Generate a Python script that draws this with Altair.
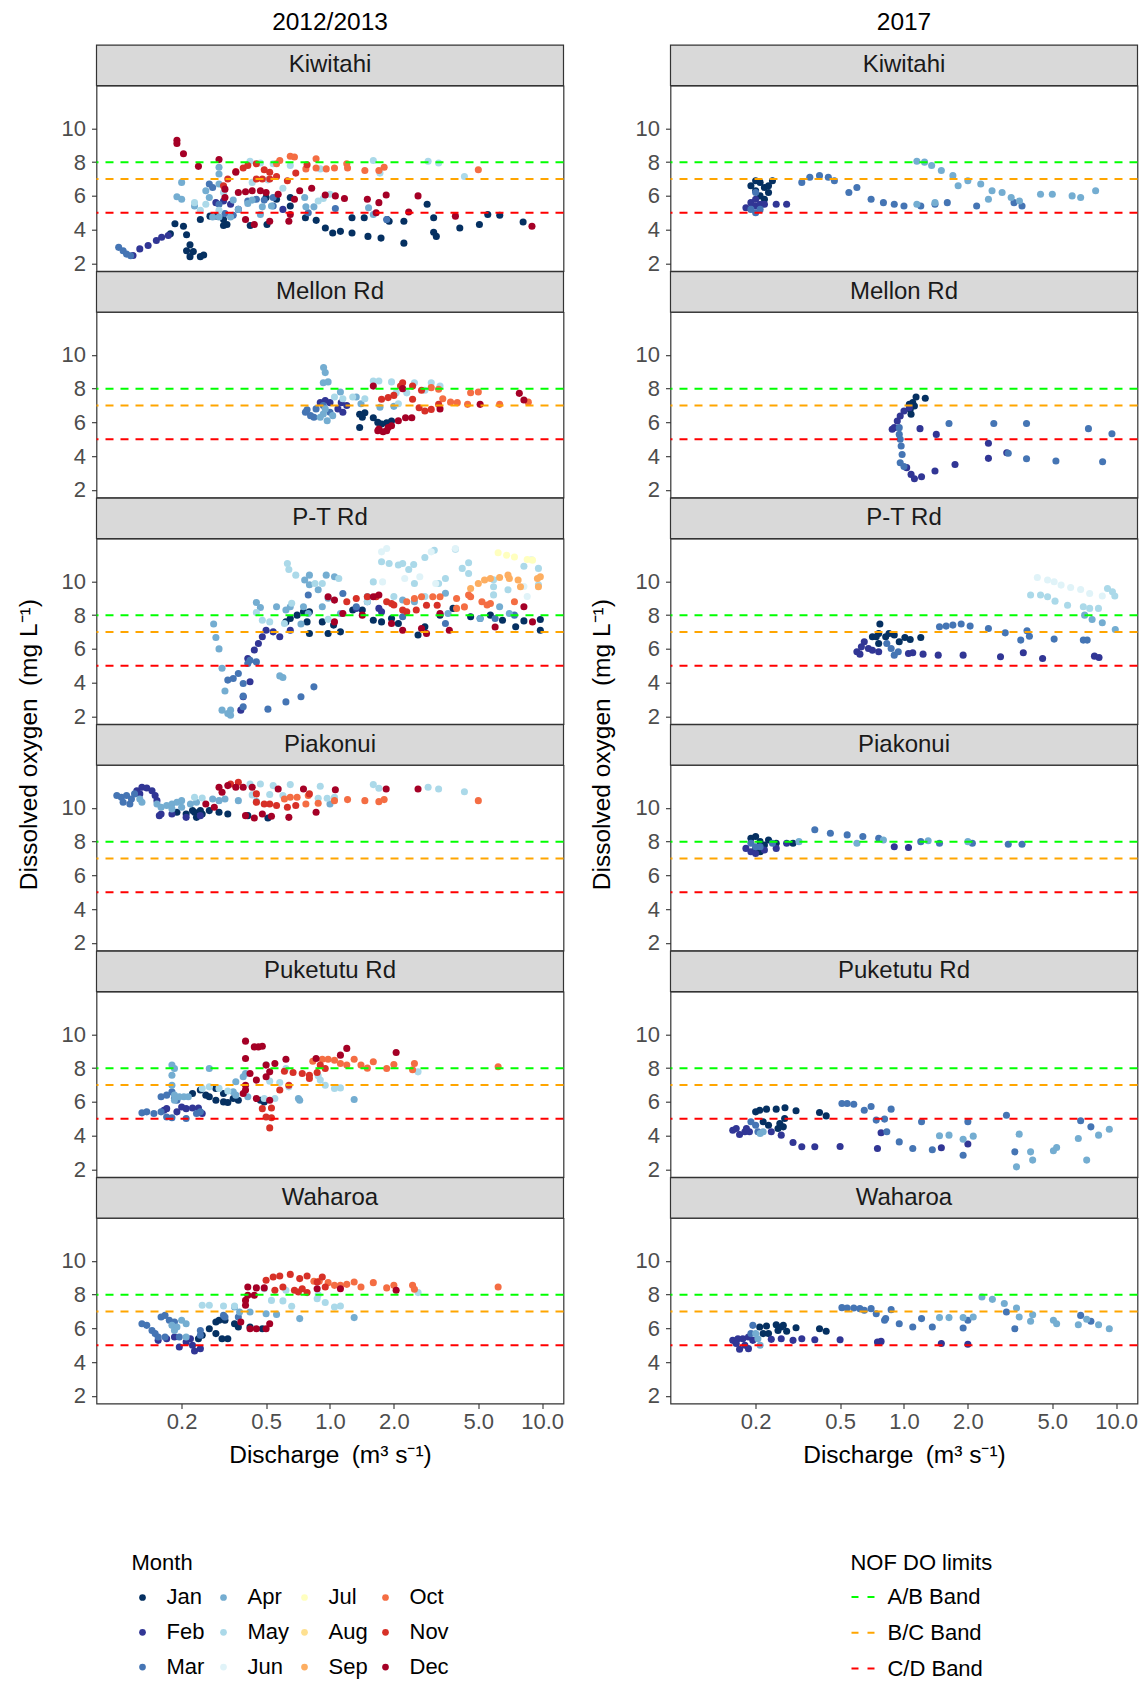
import altair as alt
import pandas as pd

MONTHS = ["Jan", "Feb", "Mar", "Apr", "May", "Jun", "Jul", "Aug", "Sep", "Oct", "Nov", "Dec"]
MONTH_COLORS = ["#053061", "#313695", "#4575B4", "#74ADD1", "#ABD9E9", "#E0F3F8",
                "#FFFFBF", "#FEE090", "#FDAE61", "#F46D43", "#D73027", "#A50026"]
SITES = ["Kiwitahi", "Mellon Rd", "P-T Rd", "Piakonui", "Puketutu Rd", "Waharoa"]
PERIODS = ["2012/2013", "2017"]
BANDS = ["A/B Band", "B/C Band", "C/D Band"]
BAND_DO = [8, 7, 5]
BAND_COLORS = ["#00FF00", "#FFA500", "#FF0000"]
Y_TICKS = [2, 4, 6, 8, 10]
X_TICKS = [0.2, 0.5, 1.0, 2.0, 5.0, 10.0]
X_DOMAIN = [0.0794, 12.6]
Y_DOMAIN = [1.55, 12.53]

# ---- discharge (m3/s), dissolved oxygen (mg/L) by month ----
KIWITAHI_1213 = {
    "Jan": [(0.177, 3.75), (0.186, 4.35), (0.204, 4.2), (0.211, 3.7), (0.219, 3.1), (0.227, 2.7), (0.211, 2.75),
            (0.219, 2.4), (0.245, 2.4), (0.254, 2.5), (0.245, 4.6), (0.272, 4.8), (0.293, 4.8), (0.315, 4.6),
            (0.327, 4.3), (0.315, 4.25), (0.421, 4.25), (0.505, 4.3), (0.5, 5.9), (0.56, 5.8), (0.65, 5.9),
            (0.65, 5.4), (0.766, 4.7), (0.861, 4.55), (0.951, 4.1), (1.03, 3.8), (1.12, 3.9), (1.27, 4.7),
            (1.27, 3.8), (1.45, 4.7), (1.51, 3.6), (1.74, 3.5), (1.86, 4.6), (1.9, 4.5), (2.23, 4.5), (2.23, 3.2),
            (2.87, 5.5), (3.08, 4.7), (3.08, 3.85), (3.17, 3.6), (4.09, 4.1), (5.06, 4.3), (5.54, 4.9),
            (6.31, 4.85), (8.13, 4.45)],
    "Feb": [(0.118, 2.47), (0.127, 2.86), (0.139, 3.06), (0.152, 3.36), (0.161, 3.55), (0.173, 3.65),
            (0.29, 5.6), (0.315, 5.7), (0.34, 5.5), (0.37, 5.2), (0.6, 5.2)],
    "Mar": [(0.101, 2.95), (0.106, 2.75), (0.11, 2.55), (0.115, 2.45), (0.27, 6.7), (0.28, 6.5), (0.3, 5.5),
            (0.32, 4.95), (0.35, 4.85), (0.41, 5.7), (0.45, 5.8), (0.49, 5.75), (0.54, 5.9), (0.54, 5.4),
            (0.79, 5.0), (1.06, 5.25), (1.85, 4.6)],
    "Apr": [(0.2, 6.8), (0.2, 5.8), (0.19, 5.95), (0.3, 7.7), (0.3, 7.3), (0.3, 6.7), (0.26, 6.3), (0.27, 5.9),
            (0.28, 4.75), (0.3, 4.75), (0.34, 4.75), (0.37, 5.2), (0.41, 5.55), (0.43, 5.75), (0.47, 4.9),
            (0.48, 5.35), (0.53, 5.4), (0.77, 5.35), (0.84, 5.35), (0.76, 5.9), (1.52, 5.3), (1.6, 4.9),
            (0.35, 5.75), (0.23, 5.4)],
    "May": [(0.42, 8.05), (0.47, 7.95), (0.54, 7.9), (0.65, 7.8), (0.9, 7.6), (1.6, 8.1), (1.72, 7.35),
            (2.9, 8.05), (3.25, 7.95), (4.3, 7.15), (0.43, 6.8), (0.51, 6.95), (0.6, 6.45), (0.88, 5.7),
            (0.93, 5.85), (1.0, 6.1), (0.23, 5.6), (0.245, 5.15), (0.26, 5.5), (0.3, 5.15), (0.315, 6.2)],
    "Oct": [(0.56, 7.9), (0.58, 8.1), (0.65, 8.35), (0.68, 8.3), (0.77, 7.6), (0.86, 8.2), (0.86, 7.65),
            (0.96, 7.6), (1.05, 7.65), (1.2, 7.9), (1.21, 7.65), (1.46, 7.5), (1.7, 7.5), (1.8, 7.7), (5.0, 7.55)],
    "Nov": [(0.315, 6.6), (0.33, 7.0), (0.36, 7.45), (0.39, 7.65), (0.41, 7.8), (0.45, 7.9), (0.49, 7.55),
            (0.52, 7.4), (0.56, 7.15), (0.63, 6.9), (0.69, 7.35), (0.78, 7.85), (0.45, 7.0), (0.48, 7.0),
            (0.52, 7.0)],
    "Dec": [(0.19, 9.3), (0.19, 9.1), (0.204, 8.5), (0.24, 7.75), (0.3, 8.15), (0.32, 5.9), (0.36, 7.4),
            (0.32, 6.4), (0.37, 6.2), (0.4, 6.25), (0.43, 6.3), (0.47, 6.3), (0.5, 6.2), (0.4, 4.6), (0.44, 4.3),
            (0.52, 4.5), (0.57, 6.1), (0.64, 4.5), (0.65, 4.9), (0.68, 5.8), (0.72, 6.3), (0.82, 6.45),
            (0.95, 6.05), (1.06, 6.0), (1.17, 5.85), (1.5, 5.8), (1.7, 5.6), (1.65, 5.0), (1.84, 6.05),
            (2.35, 5.05), (2.6, 6.0), (3.9, 4.8), (8.95, 4.2)],
}

MELLON_1213 = {
    "Jan": [(1.38, 6.48), (1.46, 6.57), (1.6, 6.28), (1.68, 6.0), (1.85, 5.98), (1.95, 6.08), (1.38, 5.7),
            (1.42, 6.3), (1.75, 5.9)],
    "Feb": [(0.9, 7.17), (1.0, 7.17), (1.09, 6.8), (1.15, 6.6), (1.2, 7.0), (1.13, 7.17), (0.95, 7.3)],
    "Mar": [(0.766, 6.6), (0.81, 6.4), (0.86, 6.8), (0.93, 7.0), (1.0, 6.6), (0.78, 6.75), (0.84, 6.3)],
    "Apr": [(0.933, 9.25), (0.95, 8.95), (0.93, 8.35), (0.98, 8.4), (1.12, 7.8), (0.93, 6.5), (0.97, 6.1),
            (0.9, 6.3), (1.33, 7.5), (1.4, 7.1), (1.72, 6.9), (2.0, 6.95), (0.95, 6.8), (1.03, 6.4)],
    "May": [(1.05, 7.5), (1.15, 7.4), (1.28, 7.5), (1.46, 7.4), (1.6, 8.45), (1.7, 8.45), (1.95, 8.4),
            (2.5, 8.35), (3.0, 8.35), (3.3, 8.15), (2.05, 7.75), (2.3, 7.75), (2.1, 7.1), (2.8, 7.9)],
    "Oct": [(3.0, 8.06), (3.25, 7.96), (3.7, 7.2), (3.98, 7.17), (4.45, 7.07), (4.6, 7.76), (5.0, 7.8),
            (6.3, 7.07), (8.6, 7.2), (3.4, 7.4)],
    "Nov": [(1.75, 7.37), (1.88, 7.47), (2.15, 8.15), (2.2, 8.35), (2.45, 8.15), (2.7, 7.9), (2.45, 7.37),
            (2.63, 6.87), (2.8, 6.68), (3.0, 6.77), (3.25, 7.07), (2.0, 7.6)],
    "Dec": [(1.68, 5.5), (1.85, 5.5), (1.95, 5.8), (2.1, 6.1), (2.27, 6.28), (2.43, 6.28), (1.6, 8.15),
            (2.2, 8.0), (3.3, 6.8), (5.1, 7.07), (7.8, 7.72), (8.2, 7.33), (1.7, 5.6), (1.88, 5.7), (1.78, 5.45)],
}

PTRD_1213 = {
    "Jan": [(0.62, 7.6), (0.65, 7.8), (0.7, 8.0), (0.75, 8.2), (0.8, 8.2), (0.78, 7.6), (0.8, 6.91), (0.92, 7.6),
            (0.98, 6.91), (1.12, 7.01), (1.04, 7.41), (1.28, 8.3), (1.42, 8.3), (1.6, 7.7), (1.75, 7.6),
            (1.95, 7.8), (2.1, 7.5), (2.6, 6.82), (2.8, 7.31), (3.3, 8.0), (3.8, 8.4), (4.6, 7.9), (5.7, 8.0),
            (6.5, 7.7), (7.5, 7.31), (8.2, 7.66), (9.8, 7.74), (9.8, 7.11)],
    "Feb": [(0.5, 7.11), (0.54, 7.01), (0.58, 6.72), (0.46, 6.32), (0.48, 6.72), (0.44, 5.93), (0.41, 5.43),
            (0.42, 4.05), (0.39, 3.16), (0.38, 2.37), (0.65, 7.11), (1.33, 8.4), (1.7, 8.4), (1.75, 8.2)],
    "Mar": [(0.42, 5.33), (0.45, 5.23), (0.41, 5.13), (0.37, 4.54), (0.35, 4.25), (0.33, 4.15), (0.39, 3.95),
            (0.39, 3.2), (0.39, 2.57), (0.51, 2.43), (0.62, 2.86), (0.73, 3.16), (0.84, 3.75), (0.79, 9.19),
            (1.15, 9.28), (1.33, 8.5), (1.5, 8.79), (3.5, 7.5), (5.1, 7.8), (6.0, 7.8), (7.4, 8.0), (2.2, 7.9)],
    "Apr": [(0.283, 7.47), (0.29, 6.68), (0.3, 6.0), (0.31, 4.85), (0.32, 3.5), (0.31, 2.37), (0.33, 2.17),
            (0.34, 2.07), (0.34, 2.37), (0.45, 8.75), (0.47, 8.45), (0.56, 8.5), (0.62, 8.3), (0.65, 8.5),
            (0.76, 10.08), (0.8, 10.37), (0.8, 9.8), (0.88, 9.5), (0.96, 10.37), (1.05, 10.27), (0.75, 8.5),
            (0.79, 8.1), (0.92, 8.5), (0.98, 9.0), (1.12, 8.1), (3.5, 9.3), (3.6, 8.1), (5.1, 7.8), (6.3, 8.5),
            (7.0, 8.1), (0.58, 4.4), (0.6, 4.3), (0.73, 7.47), (1.5, 9.1), (2.2, 8.9), (2.5, 8.8)],
    "May": [(0.63, 11.06), (0.64, 10.7), (0.69, 10.37), (0.45, 8.15), (0.48, 7.7), (0.52, 7.6), (0.61, 7.5),
            (0.66, 8.7), (0.85, 9.88), (0.92, 9.88), (1.1, 10.17), (1.6, 9.97), (1.75, 11.16), (1.9, 11.06),
            (2.1, 10.97), (2.2, 11.06), (2.35, 10.7), (2.48, 11.0), (2.8, 11.42), (3.1, 11.85), (3.9, 11.9),
            (4.2, 10.77), (4.5, 10.47), (4.5, 11.1), (3.5, 10.17), (5.9, 9.2), (5.9, 9.68), (8.2, 10.9),
            (9.6, 10.77), (9.6, 9.8), (6.9, 9.5), (5.9, 10.1), (2.5, 9.88), (2.8, 9.1), (0.98, 7.75), (1.5, 8.8),
            (2.0, 9.1), (3.25, 9.88)],
    "Jun": [(1.75, 11.75), (1.85, 11.95), (3.0, 11.75), (3.9, 11.95), (1.77, 9.97), (2.65, 10.27), (3.15, 9.88),
            (8.5, 9.1), (8.9, 11.3), (2.25, 10.17), (8.2, 9.7)],
    "Jul": [(6.2, 11.7), (6.8, 11.55), (7.4, 11.45), (8.5, 11.3), (9.0, 11.26)],
    "Sep": [(4.6, 9.58), (5.0, 9.88), (5.35, 10.08), (5.7, 10.17), (6.3, 10.23), (7.0, 10.17), (7.7, 10.08),
            (7.9, 9.68), (9.5, 10.17), (9.6, 9.68), (6.9, 10.37), (9.8, 10.27)],
    "Oct": [(2.5, 8.99), (2.7, 9.09), (3.05, 9.09), (3.3, 9.09), (3.95, 8.99), (4.5, 9.19), (4.6, 9.09),
            (5.2, 8.79), (5.5, 8.6), (5.7, 8.69), (7.4, 8.79), (2.3, 8.79), (4.3, 8.49), (3.95, 8.4)],
    "Nov": [(1.2, 8.79), (1.33, 8.99), (1.5, 9.09), (1.65, 9.09), (1.85, 8.79), (2.0, 8.6), (2.2, 8.3),
            (2.3, 8.2), (2.55, 8.3), (2.85, 8.59), (3.2, 8.59), (1.95, 8.69)],
    "Dec": [(0.98, 9.09), (1.05, 8.89), (1.15, 8.1), (1.42, 8.0), (1.6, 9.09), (1.7, 9.19), (1.95, 7.5),
            (2.2, 7.11), (2.7, 7.21), (2.85, 6.91), (3.3, 8.1), (3.65, 7.11), (6.0, 7.3), (8.2, 8.5), (9.0, 7.6),
            (1.05, 7.6)],
}

PIAKONUI_1213 = {
    "Jan": [(0.19, 9.74), (0.21, 9.64), (0.225, 9.84), (0.23, 9.74), (0.25, 9.64), (0.27, 9.84), (0.245, 9.84),
            (0.3, 9.74), (0.33, 9.64), (0.41, 9.54), (0.51, 9.4), (0.235, 9.44)],
    "Feb": [(0.123, 11.02), (0.13, 11.22), (0.137, 11.18), (0.145, 11.02), (0.15, 10.73), (0.153, 10.43),
            (0.157, 9.54), (0.16, 9.64), (0.18, 9.64), (0.21, 9.44), (0.245, 9.54), (0.127, 10.83)],
    "Mar": [(0.099, 10.73), (0.104, 10.63), (0.11, 10.73), (0.114, 10.23), (0.106, 10.33), (0.116, 10.53),
            (0.12, 10.83)],
    "Apr": [(0.127, 10.53), (0.13, 10.33), (0.153, 10.23), (0.16, 10.04), (0.17, 10.14), (0.18, 10.23),
            (0.19, 10.33), (0.2, 10.43), (0.2, 10.04), (0.22, 10.23), (0.235, 10.33), (0.28, 10.53), (0.3, 10.43),
            (0.32, 10.53), (0.37, 10.43), (0.45, 10.37), (1.0, 10.23), (0.18, 9.94)],
    "May": [(0.23, 10.63), (0.25, 10.59), (0.42, 11.42), (0.47, 11.42), (0.54, 11.32), (0.65, 11.38),
            (0.9, 11.28), (0.43, 10.77), (0.52, 10.79), (0.6, 10.73), (0.88, 10.57), (0.97, 10.57), (1.05, 10.63),
            (1.6, 11.38), (1.7, 11.16), (2.9, 11.22), (3.25, 11.12), (4.3, 10.96)],
    "Oct": [(0.61, 10.53), (0.65, 10.63), (0.7, 10.63), (0.77, 10.23), (0.88, 10.27), (1.05, 10.43),
            (1.21, 10.49), (1.46, 10.43), (1.7, 10.37), (1.8, 10.49), (5.0, 10.43), (0.79, 10.73)],
    "Nov": [(0.34, 11.42), (0.37, 11.52), (0.45, 10.33), (0.49, 10.23), (0.52, 10.23), (0.56, 10.14),
            (0.63, 10.04), (0.69, 10.14), (0.8, 10.83), (0.45, 10.83)],
    "Dec": [(0.3, 11.22), (0.31, 10.93), (0.33, 11.32), (0.36, 11.22), (0.39, 11.22), (0.43, 11.22),
            (0.26, 10.23), (0.285, 10.04), (0.57, 11.12), (0.75, 11.12), (0.86, 9.74), (1.06, 11.08),
            (1.84, 11.12), (2.6, 11.12), (0.4, 9.54), (0.44, 9.4), (0.48, 9.64), (0.53, 9.5), (0.64, 9.44)],
}

PUKETUTU_1213 = {
    "Jan": [(0.225, 6.5), (0.245, 6.7), (0.26, 6.4), (0.27, 6.3), (0.29, 6.1), (0.315, 6.0), (0.33, 5.96),
            (0.35, 6.2), (0.37, 6.1), (0.29, 6.8), (0.315, 6.5), (0.47, 6.1), (0.49, 6.0)],
    "Feb": [(0.165, 5.5), (0.17, 5.6), (0.19, 5.41), (0.2, 5.7), (0.21, 5.6), (0.225, 5.64), (0.24, 5.64),
            (0.25, 5.31)],
    "Mar": [(0.13, 5.35), (0.137, 5.41), (0.148, 5.31), (0.16, 5.41), (0.16, 6.3), (0.17, 6.4), (0.18, 6.6),
            (0.17, 5.11), (0.18, 5.06), (0.21, 5.02), (0.235, 5.31), (0.245, 5.41), (0.185, 6.2), (0.19, 6.1)],
    "Apr": [(0.18, 8.18), (0.185, 7.98), (0.18, 7.58), (0.18, 6.99), (0.185, 6.4), (0.195, 6.3), (0.205, 6.3),
            (0.215, 6.3), (0.185, 6.1), (0.27, 7.98), (0.36, 7.19), (0.39, 7.49), (0.4, 7.68), (0.41, 6.3),
            (0.71, 6.2), (0.72, 6.1), (1.3, 6.14), (0.35, 6.6), (0.36, 6.4)],
    "May": [(0.25, 6.8), (0.27, 6.89), (0.3, 6.8), (0.33, 6.64), (0.5, 8.2), (0.52, 7.23), (0.58, 7.15),
            (0.64, 6.89), (0.9, 7.29), (0.95, 6.99), (1.05, 6.8), (1.12, 6.83), (2.6, 7.78), (0.88, 7.55),
            (0.49, 6.2), (0.55, 6.2), (0.62, 7.98)],
    "Oct": [(0.83, 8.41), (0.92, 8.53), (0.98, 8.53), (1.05, 8.47), (1.12, 8.28), (1.2, 8.18), (1.3, 8.53),
            (1.4, 8.18), (1.5, 8.0), (1.6, 8.38), (1.85, 7.98), (2.0, 8.22), (2.5, 8.28), (2.45, 7.9), (6.2, 8.08)],
    "Nov": [(0.48, 5.6), (0.53, 5.64), (0.5, 5.11), (0.53, 5.06), (0.52, 4.46), (0.58, 6.7), (0.64, 6.99),
            (0.61, 7.82), (0.67, 7.74), (0.74, 7.68), (0.8, 7.58), (0.87, 7.74), (0.95, 7.98), (0.8, 7.39),
            (0.9, 8.18)],
    "Dec": [(0.4, 9.6), (0.44, 9.26), (0.46, 9.26), (0.48, 9.3), (0.4, 8.57), (0.42, 7.68), (0.4, 6.99),
            (0.4, 6.7), (0.39, 6.5), (0.45, 7.29), (0.5, 7.49), (0.52, 7.78), (0.55, 8.28), (0.62, 8.53),
            (0.45, 6.2), (0.52, 6.1), (1.12, 8.77), (1.2, 9.17), (2.05, 8.93), (0.86, 8.57), (0.5, 8.18)],
}

WAHAROA_1213 = {
    "Jan": [(0.24, 5.39), (0.25, 5.59), (0.27, 5.98), (0.29, 6.38), (0.3, 6.48), (0.32, 6.48), (0.33, 5.39),
            (0.31, 5.39), (0.29, 5.69), (0.355, 6.28), (0.37, 6.08), (0.42, 6.08), (0.48, 5.98)],
    "Feb": [(0.155, 5.29), (0.17, 5.39), (0.185, 5.49), (0.195, 4.9), (0.21, 5.19), (0.225, 5.0), (0.23, 4.66),
            (0.245, 4.8), (0.22, 5.39)],
    "Mar": [(0.13, 6.28), (0.137, 6.18), (0.145, 5.88), (0.15, 5.69), (0.155, 5.49), (0.16, 6.68),
            (0.167, 6.77), (0.175, 6.48), (0.185, 6.38), (0.195, 5.49), (0.167, 5.49), (0.245, 5.88),
            (0.245, 5.59), (0.315, 6.77), (0.32, 6.68), (0.37, 6.68)],
    "Apr": [(0.18, 6.18), (0.19, 6.08), (0.2, 6.48), (0.21, 6.28), (0.185, 5.88), (0.21, 5.49), (0.355, 7.27),
            (0.42, 6.97), (0.5, 6.87), (0.56, 6.83), (0.72, 6.58), (1.3, 6.64), (0.375, 6.97)],
    "May": [(0.25, 7.37), (0.27, 7.37), (0.315, 7.33), (0.355, 7.33), (0.49, 8.35), (0.53, 7.66), (0.62, 8.26),
            (0.6, 7.63), (0.66, 7.31), (0.87, 7.76), (0.95, 7.53), (1.05, 7.27), (1.12, 7.33), (2.6, 8.12),
            (0.88, 8.0)],
    "Oct": [(0.84, 8.79), (0.89, 8.79), (0.98, 8.71), (1.05, 8.55), (1.12, 8.55), (1.2, 8.61), (1.3, 8.75),
            (1.4, 8.45), (1.6, 8.71), (1.85, 8.4), (2.0, 8.55), (2.45, 8.55), (2.5, 8.32), (6.2, 8.45)],
    "Nov": [(0.5, 8.85), (0.54, 9.05), (0.58, 9.1), (0.65, 9.2), (0.55, 8.26), (0.6, 8.45), (0.68, 8.26),
            (0.72, 8.95), (0.71, 8.16), (0.78, 8.12), (0.78, 9.1), (0.87, 8.75), (0.92, 9.05), (0.95, 8.45),
            (0.74, 8.35)],
    "Dec": [(0.4, 7.37), (0.41, 8.45), (0.41, 7.96), (0.4, 7.66), (0.44, 7.96), (0.45, 8.4), (0.49, 8.4),
            (0.38, 6.38), (0.42, 5.98), (0.45, 5.98), (0.5, 5.98), (0.52, 6.28), (1.12, 8.35), (0.87, 8.35),
            (2.05, 8.26)],
}

KIWITAHI_2017 = {
    "Jan": [(0.19, 6.6), (0.2, 6.9), (0.21, 6.8), (0.22, 6.5), (0.23, 6.2), (0.21, 6.0), (0.22, 5.8),
            (0.24, 6.9), (0.23, 6.6), (0.2, 6.3)],
    "Feb": [(0.19, 5.6), (0.2, 5.4), (0.21, 5.5), (0.22, 5.5), (0.25, 5.5), (0.28, 5.5), (0.2, 5.8), (0.18, 5.3)],
    "Mar": [(0.19, 5.2), (0.2, 5.0), (0.2, 6.2), (0.21, 5.2), (0.33, 6.8), (0.36, 7.1), (0.4, 7.2), (0.44, 7.1),
            (0.47, 6.9), (0.55, 6.2), (0.6, 6.5), (0.7, 5.8), (0.8, 5.6), (0.9, 5.5), (1.0, 5.4), (1.2, 5.4),
            (1.4, 5.5), (1.6, 5.6), (2.2, 5.4), (3.3, 5.6), (3.6, 5.4)],
    "Apr": [(1.15, 8.05), (1.25, 8.0), (1.35, 7.8), (1.5, 7.5), (1.7, 7.2), (2.0, 6.9), (2.3, 6.7), (2.6, 6.3),
            (2.9, 6.2), (3.2, 5.9), (3.5, 5.7), (4.4, 6.1), (5.0, 6.1), (6.2, 6.0), (6.8, 5.9), (8.0, 6.3),
            (1.8, 6.6), (2.5, 5.8), (1.15, 5.5), (1.4, 5.6)],
}

MELLON_2017 = {
    "Jan": [(1.14, 7.5), (1.26, 7.43), (1.1, 7.17), (1.07, 6.77), (1.08, 6.48), (1.12, 6.97), (1.06, 7.07)],
    "Feb": [(0.9, 5.69), (0.93, 6.08), (0.96, 6.38), (1.0, 6.68), (1.06, 6.87), (0.88, 5.59), (1.03, 3.32),
            (1.08, 2.92), (1.12, 2.66), (1.21, 2.78), (1.19, 5.63), (1.4, 3.12), (1.42, 5.29), (1.74, 3.51),
            (2.5, 4.76), (2.5, 3.87), (3.05, 4.2)],
    "Mar": [(0.95, 5.69), (0.95, 5.29), (0.96, 5.0), (0.97, 4.6), (0.98, 4.1), (0.96, 3.61), (1.0, 3.38),
            (1.63, 5.93), (2.65, 5.93), (3.1, 4.17), (3.78, 5.93), (3.78, 3.85), (5.2, 3.71), (7.4, 5.63),
            (8.63, 3.67), (9.55, 5.33)],
}

PTRD_2017 = {
    "Jan": [(0.77, 7.47), (0.71, 6.72), (0.76, 6.91), (0.82, 6.72), (0.85, 6.91), (0.9, 6.82), (0.95, 6.42),
            (1.01, 6.68), (1.07, 6.56), (1.2, 6.68), (0.76, 6.32), (0.74, 6.72)],
    "Feb": [(0.6, 5.83), (0.63, 6.12), (0.65, 6.42), (0.68, 6.02), (0.71, 5.92), (0.76, 5.83), (1.05, 5.73),
            (1.1, 5.77), (1.23, 5.69), (1.45, 5.63), (1.9, 5.63), (2.85, 5.53), (3.65, 5.77), (4.5, 5.43),
            (7.9, 5.57), (8.3, 5.49), (0.62, 5.69)],
    "Mar": [(0.83, 6.32), (0.87, 6.02), (0.9, 5.63), (0.94, 5.83), (1.47, 7.31), (1.58, 7.35), (1.7, 7.41),
            (1.86, 7.47), (2.05, 7.35), (2.5, 7.21), (3.0, 6.95), (3.55, 6.52), (3.8, 7.07), (3.9, 6.75),
            (5.1, 6.58), (7.0, 6.52), (7.3, 6.52)],
    "Apr": [(7.1, 8.0), (7.7, 7.74), (8.6, 7.55), (9.9, 7.15)],
    "May": [(3.95, 9.19), (4.4, 9.19), (4.75, 9.09), (5.15, 8.83), (5.9, 8.59), (7.0, 8.5), (7.5, 8.4),
            (8.25, 8.4), (9.1, 9.58), (9.6, 9.38), (9.85, 9.13)],
    "Jun": [(4.25, 10.23), (4.75, 10.08), (5.1, 9.98), (5.5, 9.78), (6.1, 9.64), (6.8, 9.52), (7.5, 9.28),
            (8.6, 9.13)],
}

PIAKONUI_2017 = {
    "Jan": [(0.19, 8.2), (0.2, 8.3), (0.21, 8.0), (0.22, 7.8), (0.2, 7.6), (0.23, 8.1), (0.21, 7.4), (0.25, 7.9),
            (0.3, 7.9)],
    "Feb": [(0.18, 7.6), (0.19, 7.4), (0.2, 7.3), (0.22, 7.5), (0.25, 7.6), (0.28, 7.9), (0.9, 7.7), (1.05, 7.65)],
    "Mar": [(0.19, 7.9), (0.2, 7.7), (0.21, 7.7), (0.24, 7.9), (0.38, 8.7), (0.45, 8.5), (0.54, 8.4),
            (0.64, 8.3), (0.76, 8.2), (1.2, 8.0), (1.47, 7.9), (2.1, 7.9), (3.1, 7.85), (3.6, 7.85)],
    "Apr": [(0.32, 8.0), (0.6, 7.9), (0.8, 8.1), (1.3, 8.05), (2.0, 8.0)],
}

PUKETUTU_2017 = {
    "Jan": [(0.2, 5.41), (0.209, 5.51), (0.225, 5.57), (0.25, 5.57), (0.275, 5.65), (0.31, 5.47), (0.4, 5.37),
            (0.43, 5.17), (0.217, 4.82), (0.23, 4.62), (0.26, 4.72), (0.27, 4.52), (0.274, 5.02), (0.255, 4.42)],
    "Feb": [(0.156, 4.32), (0.168, 4.07), (0.178, 4.23), (0.187, 4.23), (0.162, 4.42), (0.264, 4.03),
            (0.3, 3.59), (0.33, 3.34), (0.38, 3.34), (0.5, 3.36), (0.75, 3.24), (0.78, 4.17), (1.5, 3.28),
            (2.0, 3.5), (0.181, 4.42), (0.237, 4.23)],
    "Mar": [(0.19, 4.82), (0.2, 4.62), (0.205, 4.23), (0.51, 5.9), (0.54, 5.9), (0.58, 5.86), (0.65, 5.51),
            (0.7, 5.73), (0.74, 4.92), (0.81, 4.98), (0.87, 5.57), (0.95, 3.63), (1.1, 3.24), (1.21, 4.82),
            (1.36, 3.16), (1.9, 2.84), (2.0, 4.82), (3.04, 5.21), (3.33, 3.04), (6.8, 4.88), (7.6, 4.52),
            (0.83, 4.23)],
    "Apr": [(1.47, 3.99), (1.63, 4.03), (1.9, 3.79), (2.12, 3.97), (3.49, 4.09), (3.39, 2.15), (3.95, 3.04),
            (4.04, 2.55), (5.06, 3.1), (5.24, 3.3), (6.63, 3.83), (7.26, 2.55), (8.26, 4.03), (9.28, 4.38),
            (0.21, 4.13), (0.217, 4.23)],
}

WAHAROA_2017 = {
    "Jan": [(0.209, 6.08), (0.225, 6.14), (0.25, 6.22), (0.27, 6.18), (0.31, 6.04), (0.4, 5.98), (0.43, 5.83),
            (0.217, 5.69), (0.23, 5.69), (0.255, 5.88), (0.28, 5.83), (0.264, 6.08)],
    "Feb": [(0.156, 5.29), (0.165, 5.39), (0.168, 4.76), (0.178, 5.0), (0.185, 4.8), (0.174, 5.39),
            (0.185, 5.49), (0.194, 5.29), (0.237, 5.35), (0.264, 5.39), (0.3, 5.29), (0.33, 5.39), (0.38, 5.33),
            (0.5, 5.33), (0.75, 5.19), (0.78, 5.23), (1.5, 5.1), (2.0, 5.06), (0.162, 5.1)],
    "Mar": [(0.51, 7.23), (0.54, 7.21), (0.58, 7.21), (0.62, 7.17), (0.65, 7.07), (0.7, 7.17), (0.74, 6.87),
            (0.81, 6.48), (0.82, 6.58), (0.87, 7.11), (0.95, 6.28), (1.1, 6.08), (1.21, 6.58), (1.36, 6.08),
            (1.9, 6.02), (2.0, 6.48), (3.04, 6.97), (3.33, 5.98), (6.8, 6.77), (7.6, 6.42), (0.194, 6.18),
            (0.19, 5.69)],
    "Apr": [(1.47, 6.64), (1.63, 6.64), (1.9, 6.64), (2.12, 6.68), (3.39, 7.21), (3.49, 6.68), (3.95, 6.42),
            (4.04, 6.81), (5.06, 6.48), (5.24, 6.28), (6.63, 6.22), (7.26, 6.54), (8.26, 6.22), (9.28, 5.98),
            (2.97, 7.47), (2.61, 7.72), (2.33, 7.86), (0.2, 5.69), (0.205, 5.39), (0.21, 5.0)],
}

PANEL_DATA = {
    ("Kiwitahi", "2012/2013"): KIWITAHI_1213, ("Kiwitahi", "2017"): KIWITAHI_2017,
    ("Mellon Rd", "2012/2013"): MELLON_1213, ("Mellon Rd", "2017"): MELLON_2017,
    ("P-T Rd", "2012/2013"): PTRD_1213, ("P-T Rd", "2017"): PTRD_2017,
    ("Piakonui", "2012/2013"): PIAKONUI_1213, ("Piakonui", "2017"): PIAKONUI_2017,
    ("Puketutu Rd", "2012/2013"): PUKETUTU_1213, ("Puketutu Rd", "2017"): PUKETUTU_2017,
    ("Waharoa", "2012/2013"): WAHAROA_1213, ("Waharoa", "2017"): WAHAROA_2017,
}

# ---------------- layout / style ----------------
W, H, S = 467, 185.3, 40.5
FONT = "Liberation Sans"
YLAB = "Dissolved oxygen\u2002(mg L\u207b\u00b9)"
XLAB = "Discharge\u2002(m\u00b3 s\u207b\u00b9)"

fill_enc = alt.Fill(
    "Month:N",
    scale=alt.Scale(domain=MONTHS, range=MONTH_COLORS),
    legend=alt.Legend(title="Month", orient="none", legendX=35, legendY=1467.5, columns=4,
                      symbolType="circle", symbolSize=45, symbolStrokeWidth=0,
                      labelFontSize=22, titleFontSize=22, titleFontWeight="normal",
                      labelColor="black", titleColor="black", labelOffset=13,
                      columnPadding=4, rowPadding=12.8, titlePadding=11.3, padding=0,
                      gridAlign="all"),
)
stroke_enc = alt.Stroke(
    "Band:N",
    scale=alt.Scale(domain=BANDS, range=BAND_COLORS),
    legend=alt.Legend(title="NOF DO limits", orient="none", legendX=754, legendY=1467.5,
                      symbolType="stroke", symbolSize=529, symbolStrokeWidth=2, symbolDash=[7, 9],
                      labelFontSize=22, titleFontSize=22, titleFontWeight="normal",
                      labelColor="black", titleColor="black", labelOffset=12,
                      rowPadding=11.8, titlePadding=9.3, padding=0),
)

band_df = pd.DataFrame({"Band": BANDS, "DO": BAND_DO})
x_scale = alt.Scale(type="log", domain=X_DOMAIN, nice=False)
y_scale = alt.Scale(domain=Y_DOMAIN, nice=False, zero=False)
y_axis = alt.Axis(values=Y_TICKS, grid=False, domain=False, tickColor="#333333", tickSize=5, tickWidth=1.1,
                  labelColor="#4D4D4D", labelFontSize=22, labelPadding=6, title=None)


def to_df(d):
    rows = [(m, q, do) for m, pts in d.items() for q, do in pts]
    return pd.DataFrame(rows, columns=["Month", "Q", "DO"])


def panel(site, period, row):
    df = to_df(PANEL_DATA[(site, period)])
    if row == len(SITES) - 1:
        x_axis = alt.Axis(values=X_TICKS, format=".1f", grid=False, domain=False, tickColor="#333333",
                          tickSize=5, tickWidth=1.1, labelColor="#4D4D4D", labelFontSize=22, labelPadding=3,
                          labelFlush=False, title=XLAB, titleFontSize=24.5, titleFontWeight="normal",
                          titleColor="black", titlePadding=11)
    else:
        x_axis = None
    pts = alt.Chart(df).mark_circle(size=50, opacity=1, strokeWidth=0).encode(
        x=alt.X("Q:Q", scale=x_scale, axis=x_axis),
        y=alt.Y("DO:Q", scale=y_scale, axis=y_axis),
        fill=fill_enc,
    )
    rules = alt.Chart(band_df).mark_rule(strokeDash=[8, 7], strokeWidth=2).encode(
        y=alt.Y("DO:Q", scale=y_scale, axis=y_axis),
        stroke=stroke_enc,
    )
    lab = pd.DataFrame({"site": [site], "period": [period], "ylab": [YLAB]})
    strip = alt.Chart(lab).mark_rect(fill="#D9D9D9", stroke="#333333", strokeWidth=1.2).encode(
        x=alt.value(0), x2=alt.value(W), y=alt.value(-S), y2=alt.value(0))
    strip_txt = alt.Chart(lab).mark_text(fontSize=24, color="#1A1A1A", align="center", baseline="middle").encode(
        text="site:N", x=alt.value(W / 2), y=alt.value(-S / 2))
    layers = [pts, rules, strip, strip_txt]
    if row == 0:
        layers.append(alt.Chart(lab).mark_text(fontSize=24.5, color="black", align="center",
                                               baseline="middle").encode(
            text="period:N", x=alt.value(W / 2), y=alt.value(-62.6)))
    if row == 2:
        layers.append(alt.Chart(lab).mark_text(fontSize=24.5, color="black", angle=270, align="center",
                                               baseline="middle").encode(
            text="ylab:N", x=alt.value(-67), y=alt.value(206)))
    return alt.layer(*layers).properties(width=W, height=H)


panels = [panel(site, period, r) for r, site in enumerate(SITES) for period in PERIODS]

chart = alt.concat(*panels, columns=2, spacing={"row": S, "column": 107}, bounds="flush").resolve_scale(
    fill="shared", stroke="shared"
).properties(
    padding={"left": 15.5, "top": 8.7, "right": 5, "bottom": 0}
).configure(font=FONT).configure_view(stroke="#333333", strokeWidth=1.2)

chart.save("out.html", embed_options={"renderer": "svg", "actions": False})
